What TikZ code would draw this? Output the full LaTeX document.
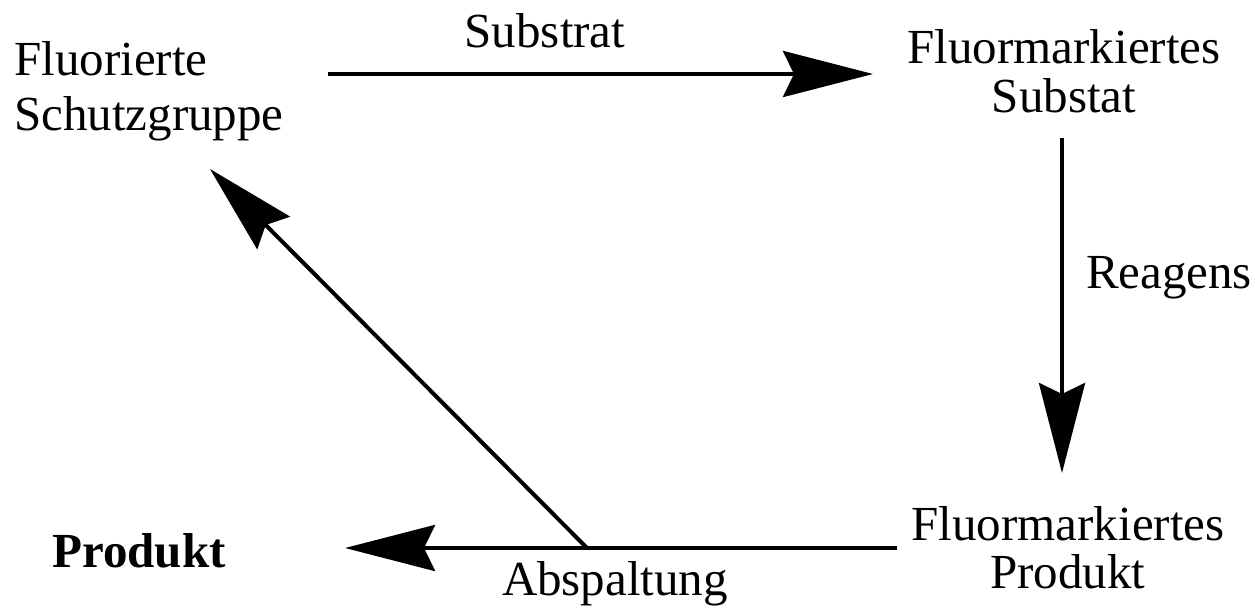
\documentclass[tikz,border=0pt]{standalone}
\usepackage{fontspec}
\setmainfont{Liberation Serif}
\usetikzlibrary{arrows.meta}
\begin{document}
\begin{tikzpicture}[x=1pt,y=-1pt,
  lbl/.style={inner sep=0pt,font=\fontsize{49}{55}\selectfont},
  conn/.style={line width=4pt,-{Stealth[length=90pt,width=46pt,inset=11pt]}}]
\useasboundingbox (0,0) rectangle (1255,608);
% nodes (multi-line nodes: base anchor is the last line's baseline)
\node[lbl,anchor=base west,align=left] (fs) at (14,130) {Fluorierte\\Schutzgruppe};
\node[lbl,anchor=base,align=center,font=\fontsize{49}{49}\selectfont] (fsub) at (1064,112) {Fluormarkiertes\\Substat};
\node[lbl,anchor=base,align=center,font=\fontsize{49}{48}\selectfont] (fprod) at (1068,588) {Fluormarkiertes\\Produkt};
\node[lbl,anchor=base] (prod) at (139,567) {\bfseries Produkt};
\node[lbl,anchor=base] (lsub) at (545,47) {Substrat};
\node[lbl,anchor=base] (lrea) at (1169,288) {Reagens};
\node[lbl,anchor=base] (labs) at (615,595) {Abspaltung};
% connector end points
\coordinate (a1) at (328,74);
\coordinate (a2) at (873,74);
\coordinate (b1) at (1062,138);
\coordinate (b2) at (1062,473);
\coordinate (c1) at (897,548);
\coordinate (c2) at (345,548);
\coordinate (d1) at (587,548);
\coordinate (d2) at (210,169);
% connectors
\draw[conn] (a1) -- (a2);
\draw[conn] (b1) -- (b2);
\draw[conn] (c1) -- (c2);
\draw[conn] (d1) -- (d2);
\end{tikzpicture}
\end{document}
